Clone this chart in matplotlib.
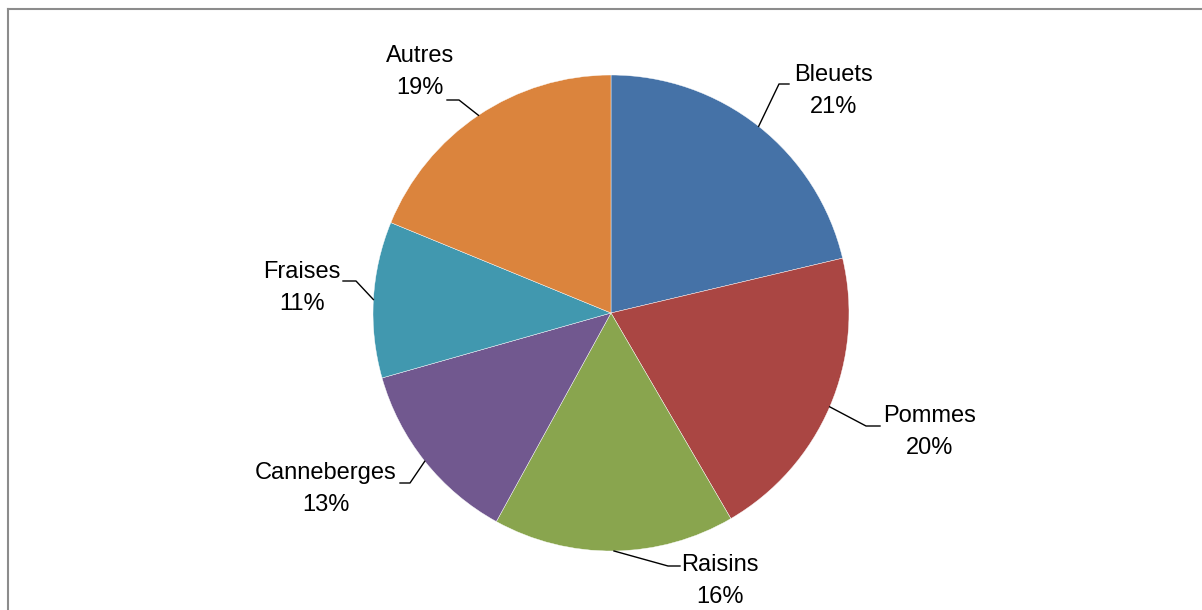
import matplotlib
matplotlib.use("Agg")
import numpy as np
import matplotlib.pyplot as plt
from matplotlib.lines import Line2D

# données du graphique
fruits = ['Bleuets', 'Pommes', 'Raisins', 'Canneberges', 'Fraises', 'Autres']
parts = [21.3, 20.3, 16.4, 12.6, 10.6, 18.8]
couleurs = ['#4572A7', '#AA4643', '#89A54E', '#71588F', '#4198AF', '#DB843D']

# position des étiquettes (pixels, origine en haut à gauche)
pos_texte = [(834, 91), (930, 432), (720, 581), (326, 489), (302, 288), (420, 72)]
# coude et fin des lignes de rappel
coudes = [(779, 84), (866, 426), (668, 566), (410, 483), (356, 281), (459, 100)]
fins = [(789, 84), (880, 426), (680, 566), (400, 483), (343, 281), (447, 100)]

W, H = 1202, 610
cx, cy, rayon = 611, 313, 238

plt.rcParams['font.family'] = ['Liberation Sans', 'DejaVu Sans']

fig = plt.figure(figsize=(W / 100, H / 100), dpi=100)
ax = fig.add_axes([0, 0, 1, 1])
ax.axis('off')

wedges, _ = ax.pie(parts, colors=couleurs, startangle=90, counterclock=False,
                   radius=rayon, center=(cx, H - cy),
                   wedgeprops=dict(linewidth=0.3, edgecolor='white'))
ax.set_xlim(0, W)
ax.set_ylim(0, H)
ax.set_aspect('auto')

for w, nom, p, (tx, ty), (ex, ey), (fx, fy) in zip(wedges, fruits, parts, pos_texte, coudes, fins):
    ang = np.deg2rad((w.theta1 + w.theta2) / 2)
    px = cx + rayon * np.cos(ang)
    py = (H - cy) + rayon * np.sin(ang)
    ax.plot([px, ex, fx], [py, H - ey, H - fy], color='black', lw=1.0)
    ax.text(tx, H - ty, f'{nom}\n{round(p):.0f}%', ha='center', va='center',
            fontsize=17, linespacing=1.6, color='black')

# cadre
fig.add_artist(Line2D([8 / W, 1], [1 - 9 / H, 1 - 9 / H], color='#8c8c8c', lw=1.5))
fig.add_artist(Line2D([8 / W, 8 / W], [0, 1 - 9 / H], color='#8c8c8c', lw=1.5))

fig.savefig('out.png', dpi=100)
